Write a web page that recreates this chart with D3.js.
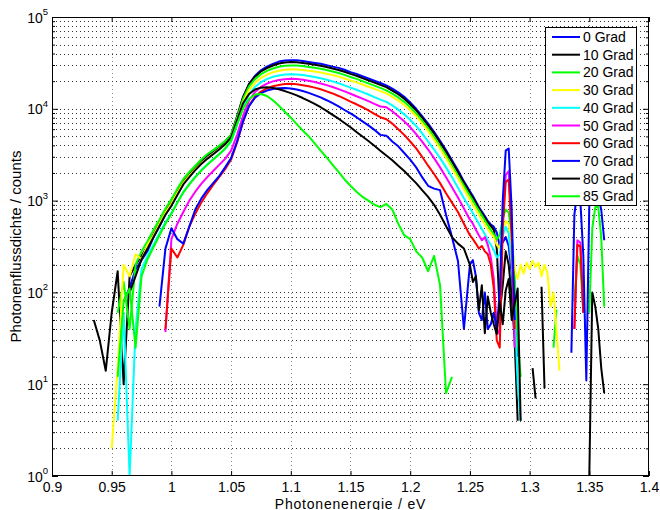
<!DOCTYPE html>
<html><head><meta charset="utf-8">
<script src="https://cdn.jsdelivr.net/npm/d3@7/dist/d3.min.js"></script>
<style>
html,body{margin:0;padding:0;background:#fff;}
svg{display:block;font-family:"Liberation Sans",Arial,Helvetica,sans-serif;}
</style></head><body>
<svg id="chart" width="660" height="510"></svg>
<script>
const _ = null;
// Photon energy (eV) sample grid
const energy = [
0.935,0.94,0.945,0.95,0.955,0.96,0.965,0.97,
0.975,0.98,0.985,0.99,0.995,1.0,1.005,1.01,
1.015,1.02,1.025,1.03,1.035,1.04,1.045,1.05,
1.055,1.06,1.065,1.07,1.075,1.08,1.085,1.09,
1.095,1.1,1.105,1.11,1.115,1.12,1.125,1.13,
1.135,1.14,1.145,1.15,1.155,1.16,1.165,1.17,
1.175,1.18,1.185,1.19,1.195,1.2,1.205,1.21,
1.215,1.22,1.225,1.23,1.235,1.24,1.245,1.25,
1.2525,1.255,1.2575,1.26,1.2625,1.265,1.2675,1.27,1.2725,
1.275,1.2775,1.28,1.2825,1.285,1.2875,1.29,1.2925,1.295,
1.2975,1.3,1.3025,1.305,1.3075,1.31,1.3125,1.315,1.3175,
1.32,1.3225,1.325,1.3275,1.33,1.3325,1.335,1.3375,1.34,
1.3425,1.345,1.3475,1.35,1.3525,1.355,1.3575,1.36,1.3625];

const grad0 = [
_,_,_,_,_,80,112,178,
224,282,398,525,708,890,1200,1580,
1900,2240,2630,3020,3390,3800,4270,5000,
7900,13200,18600,22900,26300,28800,30900,32700,
33500,33900,33700,33100,32400,31600,30900,29900,
28800,27900,26600,25100,24000,22600,21400,20200,
19100,18000,16600,15100,13500,11700,10000,8300,
6900,5600,4470,3550,2750,2140,1620,1260,
1120,980,850,760,680,600,550,520,450,
320,350,400,320,160,60,20,_,_,
_,_,_,_,_,_,_,_,_,
_,_,_,_,_,_,_,_,_,
_,_,_,_,_,_,_,_,_];

const grad10 = [
50,30,14,60,170,10,150,200,
250,320,430,570,760,950,1260,1650,
1980,2340,2750,3150,3500,3900,4400,5200,
8300,13500,18600,22400,25500,27800,29600,31100,
31900,32300,32100,31600,30900,30200,29500,28500,
27500,26500,25300,24000,22900,21600,20400,19300,
18200,17200,15800,14400,12900,11200,9600,8000,
6600,5400,4300,3400,2650,2050,1560,1210,
1080,950,820,730,650,580,530,480,300,
60,120,280,200,90,30,4,_,_,
_,_,_,_,_,_,_,_,_,
_,_,_,_,_,_,_,_,_,
_,_,_,_,_,_,_,_,_];

const grad20 = [
_,_,_,_,60,130,40,200,
280,360,480,620,820,1030,1350,1720,
2050,2400,2800,3200,3550,3950,4450,5200,
8000,12800,17500,21000,23800,25900,27500,28700,
29400,29700,29600,29200,28600,28000,27300,26400,
25500,24500,23400,22200,21200,20000,18900,17900,
16900,15900,14600,13300,11900,10400,8900,7400,
6100,4900,3900,3100,2400,1850,1450,1130,
1000,880,780,690,610,540,480,430,380,
420,640,800,740,420,150,30,12,_,
_,_,_,_,_,_,_,_,_,
25,65,_,_,_,_,_,80,250,
200,60,_,60,500,850,850,400,70];

const grad30 = [
_,_,_,2,15,200,150,260,
230,330,420,560,740,930,1220,1560,
1870,2200,2560,2900,3250,3650,4100,4850,
7400,11800,16000,19200,21700,23600,25000,26000,
26600,26900,26800,26500,26000,25500,24900,24100,
23300,22400,21400,20300,19400,18400,17400,16500,
15600,14700,13500,12300,11000,9700,8300,6900,
5700,4600,3700,2900,2250,1750,1330,1030,
900,800,700,620,550,490,440,400,330,
300,480,600,550,350,180,140,200,160,
210,180,220,190,210,150,200,160,70,
100,40,14,_,_,_,_,_,_,
_,_,_,_,_,_,_,_,_];

const grad40 = [
_,_,_,_,4,60,1,40,
180,250,330,440,580,730,960,1240,
1520,1820,2150,2480,2820,3200,3650,4400,
6600,10400,14300,17300,19500,21100,22300,23100,
23600,23800,23700,23300,22800,22200,21500,20700,
19900,19000,18000,17000,16100,15200,14300,13400,
12600,11900,10900,9800,8700,7600,6500,5400,
4400,3600,2900,2300,1800,1380,1060,830,
730,640,560,490,430,370,330,290,240,
260,420,520,440,200,70,10,4,_,
_,_,_,_,_,_,_,_,_,
_,_,_,_,_,_,_,_,_,
_,_,_,_,_,_,_,_,_];

const grad50 = [
_,_,_,_,_,_,_,_,
_,_,_,_,37,380,560,750,
1000,1250,1520,1800,2100,2450,2850,3500,
5200,8400,12300,15200,17300,18800,19900,20600,
21000,21200,21100,20700,20200,19600,18900,18100,
17300,16400,15500,14600,13700,12900,12100,11300,
10600,10400,9400,8300,7300,6300,5300,4400,
3600,2900,2300,1800,1400,1080,820,620,
560,480,420,370,400,330,240,140,40,
35,600,1900,2100,500,25,_,_,_,
_,_,_,_,_,_,_,_,_,
_,_,_,_,_,_,_,40,370,
350,60,_,_,_,_,_,_,_];

const grad60 = [
_,_,_,_,_,_,_,_,
_,_,_,_,40,300,240,330,
520,720,950,1200,1480,1800,2200,2800,
4300,7200,10800,13500,15400,16700,17600,18200,
18600,18700,18500,18100,17600,17000,16300,15500,
14700,13800,12900,12000,11200,10400,9600,8800,
8100,7700,6900,6000,5200,4400,3700,3000,
2400,1950,1550,1200,950,750,560,420,
380,340,300,320,280,260,200,110,30,
25,500,1600,1700,400,40,_,_,_,
_,_,_,_,_,_,_,_,_,
_,_,_,_,_,_,_,40,330,
320,60,_,_,_,_,_,_,_];

const grad70 = [
_,_,_,_,_,_,_,_,
_,_,_,70,300,500,380,340,
520,800,1050,1300,1550,1850,2300,2900,
4400,7300,10700,13200,14800,15800,16400,16700,
16800,16600,16200,15600,14900,14100,13300,12400,
11500,10600,9700,8900,8100,7300,6600,5900,
5200,5100,4400,3900,3300,2800,2300,1800,
1450,1350,1300,700,400,220,40,200,
225,150,60,50,100,40,45,60,40,
100,1000,3500,3700,800,50,_,_,_,
_,_,_,_,_,_,_,_,_,
_,_,_,_,_,_,22,700,1300,
1000,250,11,900,1300,1300,1100,800,370];

const grad80 = [
_,_,_,_,_,_,100,150,
230,300,400,530,700,880,1150,1500,
1800,2150,2500,2850,3200,3600,4100,4900,
7500,11500,14500,16200,17000,17200,16900,16300,
15600,14800,14000,13100,12200,11300,10400,9500,
8600,7800,7000,6300,5600,5000,4450,3950,
3500,3100,2750,2400,2100,1800,1550,1300,
1100,900,700,530,400,340,300,200,
130,150,64,120,36,90,60,45,35,
80,45,105,140,50,75,110,4,_,
_,_,15,7,_,115,9,_,_,
_,_,_,_,_,_,_,_,_,
_,_,_,1,100,70,40,15,8];

const grad85 = [
_,_,_,_,12,80,110,25,
150,230,310,420,560,720,950,1230,
1500,1800,2120,2450,2800,3200,3700,4500,
6800,10000,12800,14300,14500,13800,12400,10800,
9300,8000,6800,5800,5000,4200,3500,2950,
2450,2050,1700,1450,1250,1100,1000,900,
850,920,800,560,420,380,280,240,
170,250,120,8,12,_,_,_,
_,_,_,_,_,_,_,_,_,
_,_,_,_,_,_,_,_,_,
_,_,_,_,_,_,_,_,_,
_,_,_,_,_,_,_,_,_,
_,_,_,_,_,_,_,_,_];

const seriesNames = ["0 Grad","10 Grad","20 Grad","30 Grad","40 Grad","50 Grad","60 Grad","70 Grad","80 Grad","85 Grad"];
const seriesValues = [grad0,grad10,grad20,grad30,grad40,grad50,grad60,grad70,grad80,grad85];
const seriesColors = ["#0000ff","#000000","#00ff00","#ffff00","#00ffff","#ff00ff","#ff0000","#0000ff","#000000","#00ff00"];

const xTicks = [0.9,0.95,1.0,1.05,1.1,1.15,1.2,1.25,1.3,1.35,1.4];
const xTickLabels = ["0.9","0.95","1","1.05","1.1","1.15","1.2","1.25","1.3","1.35","1.4"];
const yTicks = [1,10,100,1000,10000,100000];
const yTickExponents = ["0","1","2","3","4","5"];
const xLabel = "Photonenenergie / eV";
const yLabel = "Photonenflussdichte / counts";

seriesValues.forEach((s,i)=>{ if(s.length!==energy.length) throw new Error("length mismatch "+seriesNames[i]+" "+s.length); });

const L=52,R=649,T=17,B=476;
const svg=d3.select("#chart");
const x=d3.scaleLinear().domain([0.9,1.4]).range([L,R]);
const y=d3.scaleLog().domain([1,1e5]).range([B,T]);

const minorY=[];
yTicks.slice(0,-1).forEach(d=>{ for(let k=2;k<=9;k++) minorY.push(d*k); });

// grid
const grid=svg.append("g");
grid.selectAll("line.gx").data(xTicks.slice(1,-1)).join("line")
  .attr("x1",d=>Math.round(x(d))+0.5).attr("x2",d=>Math.round(x(d))+0.5)
  .attr("y1",T).attr("y2",B)
  .attr("stroke","#888").attr("stroke-width",1).attr("stroke-dasharray","1,3");
grid.selectAll("line.gy").data(yTicks.slice(1,-1).concat(minorY)).join("line")
  .attr("x1",L).attr("x2",R)
  .attr("y1",d=>Math.round(y(d))+0.5).attr("y2",d=>Math.round(y(d))+0.5)
  .attr("stroke","#333").attr("stroke-width",1).attr("stroke-dasharray","1,3");

// clip
svg.append("defs").append("clipPath").attr("id","plotclip")
  .append("rect").attr("x",L).attr("y",T).attr("width",R-L).attr("height",B-T);

const line=d3.line()
  .defined(d=>d[1]!==null && d[1]>0)
  .x(d=>x(d[0])).y(d=>y(d[1]));

const plot=svg.append("g").attr("clip-path","url(#plotclip)");
seriesValues.forEach((vals,i)=>{
  const pts=energy.map((e,j)=>[e,vals[j]]);
  plot.append("path").datum(pts)
    .attr("d",line).attr("fill","none")
    .attr("stroke",seriesColors[i]).attr("stroke-width",2)
    .attr("stroke-linejoin","round");
});

// axes
const styleAxis=g=>{ g.select(".domain").remove(); g.selectAll("line").attr("stroke","#000"); };
svg.append("g").attr("transform",`translate(0,${B})`)
  .call(d3.axisBottom(x).tickValues(xTicks).tickFormat((d,i)=>xTickLabels[i]).tickSize(-5).tickPadding(6))
  .call(styleAxis)
  .selectAll("text").attr("font-size",14).attr("font-family","Liberation Sans, Arial, sans-serif").attr("fill","#000");
svg.append("g").attr("transform",`translate(0,${T})`)
  .call(d3.axisTop(x).tickValues(xTicks).tickFormat("").tickSize(-5)).call(styleAxis);
svg.append("g").attr("transform",`translate(${L},0)`)
  .call(d3.axisLeft(y).tickValues(yTicks).tickFormat("").tickSize(-6)).call(styleAxis);
svg.append("g").attr("transform",`translate(${L},0)`)
  .call(d3.axisLeft(y).tickValues(minorY).tickFormat("").tickSize(-3)).call(styleAxis);
svg.append("g").attr("transform",`translate(${R},0)`)
  .call(d3.axisRight(y).tickValues(yTicks).tickFormat("").tickSize(-6)).call(styleAxis);
svg.append("g").attr("transform",`translate(${R},0)`)
  .call(d3.axisRight(y).tickValues(minorY).tickFormat("").tickSize(-3)).call(styleAxis);

// y tick labels with exponent
const yl=svg.append("g").attr("font-size",14).attr("fill","#000");
yTicks.forEach((d,i)=>{
  const t=yl.append("text").attr("x",L-4).attr("y",y(d)+5.5).attr("text-anchor","end");
  t.append("tspan").text("10");
  t.append("tspan").attr("dy",-7.5).attr("font-size",9.5).text(yTickExponents[i]);
});

// box
svg.append("rect").attr("x",L+0.5).attr("y",T+0.5).attr("width",R-L-1).attr("height",B-T-1)
  .attr("fill","none").attr("stroke","#000").attr("stroke-width",1);

// axis labels
svg.append("text").attr("x",(L+R)/2).attr("y",508.5).attr("text-anchor","middle")
  .attr("font-size",14).attr("letter-spacing",0.8).attr("fill","#000").text(xLabel);
svg.append("text").attr("transform",`translate(21,${(T+B)/2}) rotate(-90)`)
  .attr("text-anchor","middle").attr("font-size",15).attr("fill","#000").text(yLabel);

// legend
const lg=svg.append("g");
lg.append("rect").attr("x",545.5).attr("y",27.5).attr("width",91).attr("height",178)
  .attr("fill","#fff").attr("stroke","#000").attr("stroke-width",1);
seriesNames.forEach((n,i)=>{
  const yy=37+i*17.7;
  lg.append("line").attr("x1",552).attr("x2",580).attr("y1",yy).attr("y2",yy)
    .attr("stroke",seriesColors[i]).attr("stroke-width",2);
  lg.append("text").attr("x",583).attr("y",yy).attr("dy","0.36em")
    .attr("font-size",14).attr("fill","#000").text(n);
});
</script>
</body></html>
